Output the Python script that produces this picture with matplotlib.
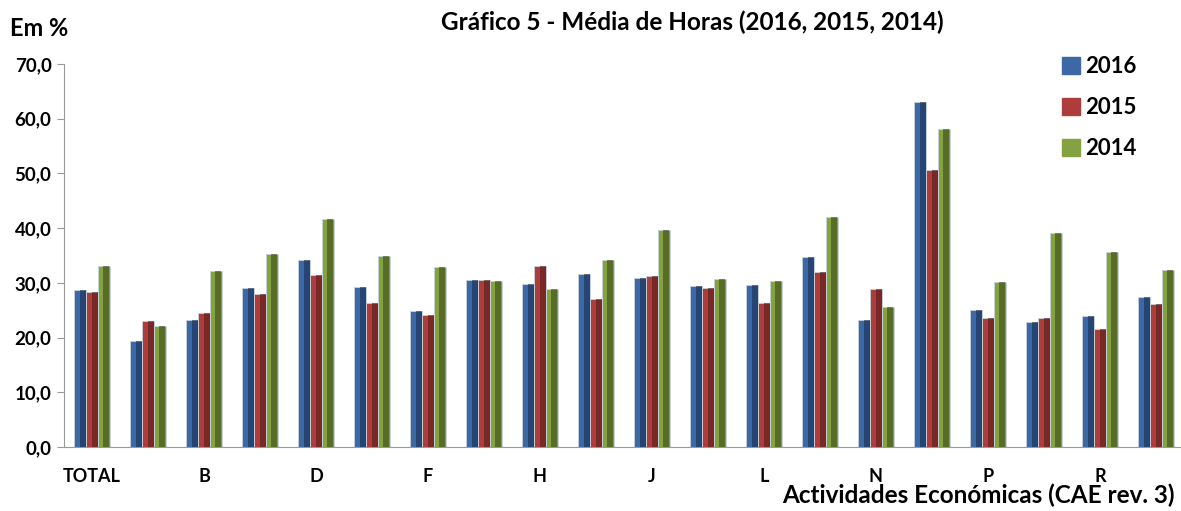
import numpy as np
import matplotlib.pyplot as plt
from matplotlib.ticker import FuncFormatter

# data
categories = ["TOTAL", "A", "B", "C", "D", "E", "F", "G", "H", "I",
              "J", "K", "L", "M", "N", "O", "P", "Q", "R", "S"]
v2016 = [28.7, 19.4, 23.2, 29.1, 34.1, 29.3, 24.9, 30.5, 29.8, 31.7,
         30.8, 29.4, 29.6, 34.7, 23.2, 63.0, 25.1, 22.8, 23.9, 27.5]
v2015 = [28.4, 23.0, 24.4, 28.0, 31.5, 26.3, 24.2, 30.6, 33.1, 27.1,
         31.3, 29.1, 26.3, 32.0, 28.9, 50.6, 23.5, 23.5, 21.6, 26.1]
v2014 = [33.1, 22.1, 32.2, 35.2, 41.6, 34.9, 32.9, 30.3, 28.9, 34.2,
         39.7, 30.7, 30.3, 42.0, 25.5, 58.1, 30.2, 39.2, 35.6, 32.4]
series = ["2016", "2015", "2014"]
tick_labels = [c if i % 2 == 0 else "" for i, c in enumerate(categories)]

colors = ["#3c68a6", "#ad3d3b", "#84a23f"]
darks = ["#1a2f50", "#561b1a", "#3b481a"]

plt.rcParams["font.family"] = ["Lato", "DejaVu Sans"]
plt.rcParams["font.weight"] = "bold"

fig = plt.figure(figsize=(11.81, 5.11), dpi=100)
ax = fig.add_axes([64 / 1181, 64 / 511, 1120 / 1181, 383 / 511])

x = np.arange(len(categories))
w = 0.21
for k, vals in enumerate([v2016, v2015, v2014]):
    pos = x + (k - 1) * w
    ax.bar(pos, vals, width=w, color=colors[k], edgecolor="#c9d3dd",
           linewidth=0.6, label=series[k], zorder=2)
    # darker right half for the bevelled look
    ax.bar(pos + w * 0.22, vals, width=w * 0.5, color=darks[k],
           alpha=0.6, linewidth=0, zorder=3)

ax.set_xlim(-0.5, len(categories) - 0.5)
ax.set_ylim(0, 70)
ax.set_yticks(np.arange(0, 71, 10))
ax.yaxis.set_major_formatter(FuncFormatter(lambda v, _: f"{v:.1f}".replace(".", ",")))
ax.set_xticks(x)
ax.set_xticklabels(tick_labels)
ax.tick_params(axis="x", length=0, pad=15, labelsize=13)
ax.tick_params(axis="y", length=5, color="#9a9a9a", labelsize=13.5, pad=4)

for s in ["top", "right"]:
    ax.spines[s].set_visible(False)
ax.spines["left"].set_color("#9a9a9a")
ax.spines["bottom"].set_color("#9a9a9a")

fig.text(692 / 1181, 1 - 22 / 511, "Gráfico 5 - Média de Horas (2016, 2015, 2014)",
         ha="center", va="center", fontsize=17.5, fontweight="bold")
fig.text(10 / 1181, 1 - 28 / 511, "Em %", ha="left", va="center",
         fontsize=17, fontweight="bold")
fig.text(1175 / 1181, 1 - 495 / 511, "Actividades Económicas (CAE rev. 3)",
         ha="right", va="center", fontsize=17.5, fontweight="bold")

handles = [plt.Rectangle((0, 0), 1, 1, color=c) for c in colors]
ax.legend(handles, series, loc="upper left", bbox_to_anchor=(1042 / 1181, 1 - 36 / 511),
          bbox_transform=fig.transFigure, frameon=False, fontsize=16,
          handlelength=0.8, handleheight=0.8, labelspacing=0.9, handletextpad=0.25)

fig.savefig("out.png", dpi=100)
